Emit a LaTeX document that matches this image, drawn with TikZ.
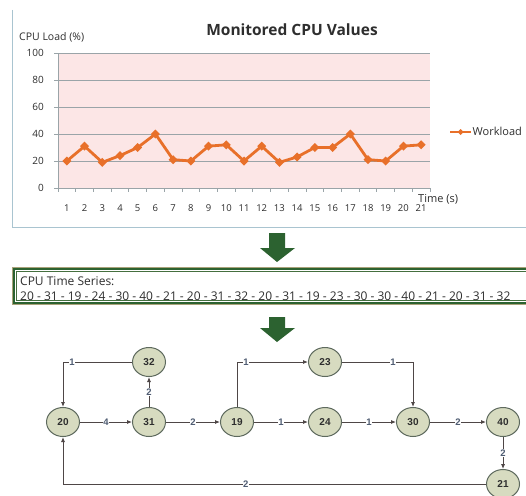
\documentclass[tikz,border=0pt]{standalone}
\usepackage{fontspec}
\setmainfont{Open Sans}
\newfontfamily\gfont{Liberation Sans}
\usetikzlibrary{arrows.meta,shapes.geometric}
\definecolor{framecol}{HTML}{A9C4D0}
\definecolor{plotfill}{HTML}{FCE6E6}
\definecolor{gridcol}{HTML}{9AA4A8}
\definecolor{orangecol}{HTML}{E8702A}
\definecolor{greencol}{HTML}{2C6230}
\definecolor{tancol}{HTML}{A9A27A}
\definecolor{nodefill}{HTML}{D7DBC0}
\definecolor{nodeline}{HTML}{5E6A5E}
\definecolor{edgecol}{HTML}{4E4646}
\definecolor{labcol}{HTML}{4F5C72}
\definecolor{txt}{HTML}{2E2E2E}
\tikzset{
  state/.style={ellipse, draw=nodeline, line width=1pt, fill=nodefill, minimum width=33pt, minimum height=29pt, inner sep=0pt, font=\gfont\bfseries\fontsize{10}{10}\selectfont, text=txt},
  edge/.style={draw=edgecol, line width=1pt, -{Latex[length=5pt,width=4.2pt]}},
  elab/.style={font=\gfont\bfseries\fontsize{9.5}{9.5}\selectfont, text=labcol, fill=white, inner sep=0.6pt},
  axlab/.style={font=\fontsize{9.5}{9.5}\selectfont, text=txt, inner sep=0pt},
  dataline/.style={draw=orangecol, line width=2.8pt, line join=round},
  blockarrow/.style={fill=greencol},
}
\begin{document}
\begin{tikzpicture}[x=1pt,y=-1pt]
\clip (0,0) rectangle (526,495);
\fill[white] (0,0) rectangle (526,495);
% chart frame
\draw[framecol, line width=1pt] (12,10) -- (12,227) -- (530,227);
% plot area
\fill[plotfill] (58,53) rectangle (430,188);
\foreach \g in {53,80,107,134,161}{
  \draw[gridcol, line width=0.8pt] (54,\g) -- (430,\g);
}
\draw[gridcol, line width=0.8pt] (58,53) -- (58,188);
\draw[gridcol, line width=0.8pt] (54,188) -- (430,188);
\foreach \k in {0,...,21}{
  \draw[gridcol, line width=0.8pt] ({58+17.714*\k},188) -- ({58+17.714*\k},191.5);
}
% y labels
\foreach \v/\yy in {100/53,80/80,60/107,40/134,20/161,0/188}{
  \node[axlab, font=\fontsize{10}{10}\selectfont, anchor=east] (yl\v) at (44,\yy) {\v};
}
% x labels
\foreach \i in {1,...,21}{
  \node[axlab] (xl\i) at ({58+17.714*(\i-0.5)},208) {\i};
}
\node[font=\fontsize{10.5}{10.5}\selectfont, text=txt, anchor=west, inner sep=0pt] (ylab) at (19,37) {CPU Load (\%)};
\node[font=\bfseries\fontsize{15.5}{15.5}\selectfont, text=txt, inner sep=0pt] (title) at (292,30) {Monitored CPU Values};
\node[font=\fontsize{11}{11}\selectfont, text=txt, anchor=west, inner sep=0pt] (tlab) at (418,199) {Time (s)};
% data
\draw[dataline] (66.86,161)
  \foreach \v [count=\i] in {20,31,19,24,30,40,21,20,31,32,20,31,19,23,30,30,40,21,20,31,32}{
    -- ({58+17.714*(\i-0.5)},{188-1.35*\v})
  };
\foreach \v [count=\i] in {20,31,19,24,30,40,21,20,31,32,20,31,19,23,30,30,40,21,20,31,32}{
  \fill[orangecol] ({58+17.714*(\i-0.5)},{188-1.35*\v+4.5}) -- ++(4.5,-4.5) -- ++(-4.5,-4.5) -- ++(-4.5,4.5) -- cycle;
}
% legend
\draw[orangecol, line width=1.5pt] (450,132) -- (471,132);
\fill[orangecol] (460.5,135) -- (463.5,132) -- (460.5,129) -- (457.5,132) -- cycle;
\node[font=\fontsize{11}{11}\selectfont, text=txt, anchor=west, inner sep=0pt] (leg) at (472.5,131) {Workload};
% arrow 1
\fill[blockarrow] (269,233) -- (285,233) -- (285,248) -- (295,248) -- (277,262) -- (260,248) -- (269,248) -- cycle;
% time series box
\draw[tancol, line width=0.6pt] (12,267) rectangle (540,304.5);
\draw[greencol, line width=2.2pt] (13.6,268.6) rectangle (540,302.9);
\draw[greencol!80!tancol, line width=0.6pt] (16.2,271.2) rectangle (540,300.3);
\node[font=\fontsize{12}{12}\selectfont, text=txt, anchor=west, inner sep=0pt] (tsh) at (20,281.5) {CPU Time Series:};
\node[font=\fontsize{12}{12}\selectfont, text=txt, anchor=west, inner sep=0pt] (tsv) at (20,296) {20 - 31 - 19 - 24 - 30 - 40 - 21 - 20 - 31 - 32 - 20 - 31 - 19 - 23 - 30 - 30 - 40 - 21 - 20 - 31 - 32};
% arrow 2
\fill[blockarrow] (269,317) -- (285,317) -- (285,328) -- (295,328) -- (277,342) -- (260,328) -- (269,328) -- cycle;
% graph
\node[state] (n20) at (63,422) {20};
\node[state] (n32) at (149,362) {32};
\node[state] (n31) at (149,422) {31};
\node[state] (n19) at (237,422) {19};
\node[state] (n23) at (325,362) {23};
\node[state] (n24) at (325,422) {24};
\node[state] (n30) at (413,422) {30};
\node[state] (n40) at (503,422) {40};
\node[state] (n21) at (503,484) {21};
\draw[edge] (n20) -- node[elab]{4} (n31);
\draw[edge] (n31) -- node[elab]{2} (n32);
\draw[edge] (n32.west) -| node[elab, pos=0.435]{1} (n20.north);
\draw[edge] (n31) -- node[elab]{2} (n19);
\draw[edge] (n19.north) |- node[elab, pos=0.563]{1} (n23.west);
\draw[edge] (n19) -- node[elab]{1} (n24);
\draw[edge] (n24) -- node[elab]{1} (n30);
\draw[edge] (n23.east) -| node[elab, pos=0.36]{1} (n30.north);
\draw[edge] (n30) -- node[elab]{2} (n40);
\draw[edge] (n40) -- node[elab]{2} (n21);
\draw[edge] (n21.west) -| node[elab, pos=0.284]{2} (n20.south);
\end{tikzpicture}
\end{document}
